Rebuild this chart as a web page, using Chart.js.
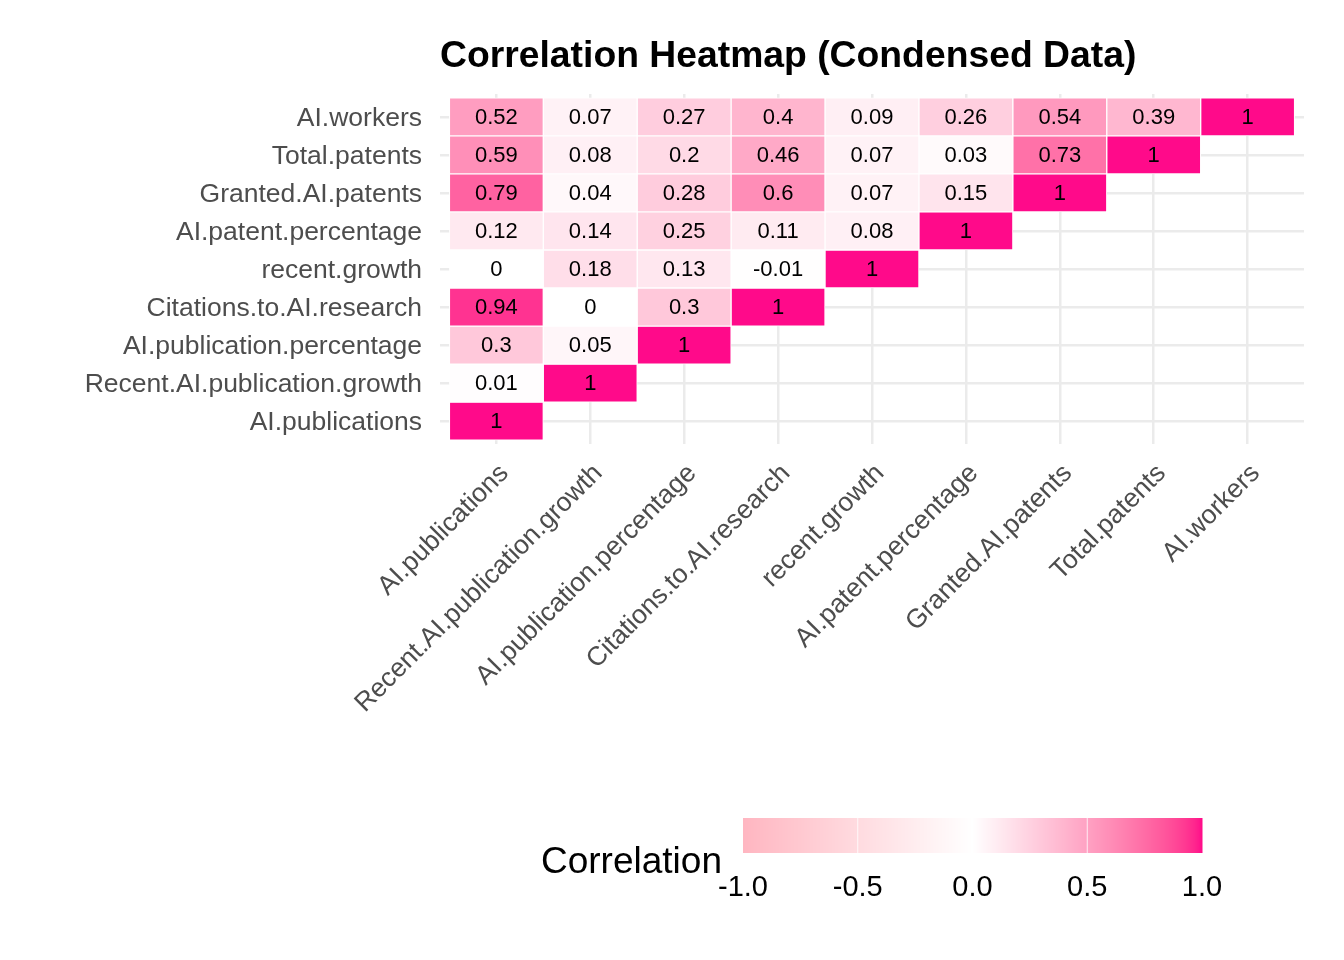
<!DOCTYPE html>
<html>
    <head>
        <title>Correlation Heatmap</title>
        <meta charset="UTF-8">
        <script src="https://cdn.jsdelivr.net/npm/chart.js@4.4.0/dist/chart.umd.min.js"></script>
        <style>
            html, body { margin: 0; padding: 0; background: #ffffff; }
            #chartBox { width: 1344px; height: 960px; }
        </style>
    </head>
    <body>
        <div id='chartBox'><canvas id='myChart'></canvas></div>
        <script>
            // variables, bottom row / left column first
            const variables = [
                'AI.publications',
                'Recent.AI.publication.growth',
                'AI.publication.percentage',
                'Citations.to.AI.research',
                'recent.growth',
                'AI.patent.percentage',
                'Granted.AI.patents',
                'Total.patents',
                'AI.workers'
            ];

            // one array per row (y variable), values for columns 0..row
            const rowAIpublications = [1];
            const rowRecentAIpublicationGrowth = [0.01, 1];
            const rowAIpublicationPercentage = [0.3, 0.05, 1];
            const rowCitationsToAIresearch = [0.94, 0, 0.3, 1];
            const rowRecentGrowth = [0, 0.18, 0.13, -0.01, 1];
            const rowAIpatentPercentage = [0.12, 0.14, 0.25, 0.11, 0.08, 1];
            const rowGrantedAIpatents = [0.79, 0.04, 0.28, 0.6, 0.07, 0.15, 1];
            const rowTotalPatents = [0.59, 0.08, 0.2, 0.46, 0.07, 0.03, 0.73, 1];
            const rowAIworkers = [0.52, 0.07, 0.27, 0.4, 0.09, 0.26, 0.54, 0.39, 1];

            const legendTicks = [-1.0, -0.5, 0.0, 0.5, 1.0];

            const lowColour = '#FFB6C1';
            const midColour = '#FFFFFF';
            const highColour = '#FF0A8A';

            const titleText = 'Correlation Heatmap (Condensed Data)';
            const legendTitle = 'Correlation';

            const rows = [
                rowAIpublications, rowRecentAIpublicationGrowth, rowAIpublicationPercentage,
                rowCitationsToAIresearch, rowRecentGrowth, rowAIpatentPercentage,
                rowGrantedAIpatents, rowTotalPatents, rowAIworkers
            ];

            // --- colour scale, interpolated in Lab like ggplot's gradient2 ---
            function hexToRgb(h) {
                return [parseInt(h.substr(1, 2), 16), parseInt(h.substr(3, 2), 16), parseInt(h.substr(5, 2), 16)];
            }
            function toLab(rgb) {
                let l = rgb.map(c => { c /= 255; return c <= 0.04045 ? c / 12.92 : Math.pow((c + 0.055) / 1.055, 2.4); });
                let X = (0.4124564 * l[0] + 0.3575761 * l[1] + 0.1804375 * l[2]) / 0.95047;
                let Y = (0.2126729 * l[0] + 0.7151522 * l[1] + 0.0721750 * l[2]);
                let Z = (0.0193339 * l[0] + 0.1191920 * l[1] + 0.9503041 * l[2]) / 1.08883;
                let f = t => t > 0.008856 ? Math.cbrt(t) : 7.787 * t + 16 / 116;
                let fx = f(X), fy = f(Y), fz = f(Z);
                return [116 * fy - 16, 500 * (fx - fy), 200 * (fy - fz)];
            }
            function fromLab(lab) {
                let fy = (lab[0] + 16) / 116, fx = fy + lab[1] / 500, fz = fy - lab[2] / 200;
                let finv = t => t * t * t > 0.008856 ? t * t * t : (t - 16 / 116) / 7.787;
                let X = finv(fx) * 0.95047, Y = finv(fy), Z = finv(fz) * 1.08883;
                let r = 3.2404542 * X - 1.5371385 * Y - 0.4985314 * Z;
                let g = -0.9692660 * X + 1.8760108 * Y + 0.0415560 * Z;
                let b = 0.0556434 * X - 0.2040259 * Y + 1.0572252 * Z;
                return [r, g, b].map(c => {
                    c = c <= 0.0031308 ? 12.92 * c : 1.055 * Math.pow(c, 1 / 2.4) - 0.055;
                    return Math.round(Math.max(0, Math.min(1, c)) * 255);
                });
            }
            const labLow = toLab(hexToRgb(lowColour));
            const labMid = toLab(hexToRgb(midColour));
            const labHigh = toLab(hexToRgb(highColour));

            function corrColour(v) {
                let end = v >= 0 ? labHigh : labLow;
                let t = Math.min(1, Math.abs(v));
                let lab = labMid.map((m, k) => m + (end[k] - m) * t);
                let c = fromLab(lab);
                return 'rgb(' + c[0] + ',' + c[1] + ',' + c[2] + ')';
            }

            // tiles as floating bars: x = column, y = [row - 0.5, row + 0.5]
            let tiles = [];
            rows.forEach((vals, j) => {
                vals.forEach((v, i) => {
                    tiles.push({ x: i, y: [j - 0.5, j + 0.5], v: v });
                });
            });

            const fontFamily = "'Liberation Sans', Arial, Helvetica, sans-serif";
            Chart.defaults.font.family = fontFamily;

            const cellText = {
                id: 'cellText',
                afterDatasetsDraw(chart) {
                    const ctx = chart.ctx;
                    const meta = chart.getDatasetMeta(0);
                    ctx.save();
                    ctx.font = '22px ' + fontFamily;
                    ctx.fillStyle = '#000000';
                    ctx.textAlign = 'center';
                    ctx.textBaseline = 'middle';
                    meta.data.forEach((bar, k) => {
                        let p = bar.getProps(['x', 'y', 'base'], true);
                        ctx.fillText(String(tiles[k].v), p.x, (p.y + p.base) / 2 + 1);
                    });
                    ctx.restore();
                }
            };

            const titleAndLegend = {
                id: 'titleAndLegend',
                afterDraw(chart) {
                    const ctx = chart.ctx;
                    ctx.save();
                    // title, left aligned with the panel
                    ctx.font = 'bold 37.3px ' + fontFamily;
                    ctx.fillStyle = '#000000';
                    ctx.textAlign = 'left';
                    ctx.textBaseline = 'alphabetic';
                    ctx.fillText(titleText, chart.chartArea.left, 67);

                    // colour bar
                    const x0 = 743, x1 = 1202, y0 = 818, y1 = 853;
                    for (let px = x0; px < x1; px++) {
                        let v = -1 + 2 * ((px + 0.5 - x0) / (x1 - x0));
                        ctx.fillStyle = corrColour(v);
                        ctx.fillRect(px, y0, 1.5, y1 - y0);
                    }
                    ctx.strokeStyle = 'rgba(255,255,255,0.8)';
                    ctx.lineWidth = 1;
                    legendTicks.forEach(t => {
                        if (t === -1 || t === 1) return;
                        let px = x0 + (t + 1) / 2 * (x1 - x0);
                        ctx.beginPath();
                        ctx.moveTo(px, y0);
                        ctx.lineTo(px, y1);
                        ctx.stroke();
                    });

                    ctx.fillStyle = '#000000';
                    ctx.font = '29px ' + fontFamily;
                    ctx.textAlign = 'center';
                    legendTicks.forEach(t => {
                        let px = x0 + (t + 1) / 2 * (x1 - x0);
                        ctx.fillText(t.toFixed(1), px, 896);
                    });

                    ctx.font = '37px ' + fontFamily;
                    ctx.textAlign = 'left';
                    ctx.fillText(legendTitle, 541, 873);
                    ctx.restore();
                }
            };

            const ctx = document.getElementById('myChart').getContext('2d');
            const chart = new Chart(ctx, {
                type: 'bar',
                data: {
                    datasets: [{
                        data: tiles,
                        backgroundColor: c => corrColour(c.raw ? c.raw.v : 0),
                        borderColor: '#ffffff',
                        borderWidth: 1,
                        borderSkipped: false,
                        barPercentage: 1,
                        categoryPercentage: 1
                    }]
                },
                options: {
                    responsive: true,
                    maintainAspectRatio: false,
                    animation: false,
                    events: [],
                    layout: { padding: { top: 94, right: 40, left: 0, bottom: 0 } },
                    plugins: {
                        legend: { display: false },
                        tooltip: { enabled: false },
                        title: { display: false }
                    },
                    scales: {
                        x: {
                            type: 'linear',
                            min: -0.6,
                            max: 8.6,
                            offset: false,
                            afterBuildTicks: s => { s.ticks = variables.map((_, i) => ({ value: i })); },
                            afterFit: s => { s.height = 960 - 444; },
                            grid: { color: '#EBEBEB', lineWidth: 2.5, drawTicks: false, offset: false },
                            border: { display: false },
                            ticks: {
                                autoSkip: false,
                                minRotation: 45,
                                maxRotation: 45,
                                padding: 14,
                                labelOffset: 8,
                                color: '#4D4D4D',
                                font: { size: 26.5 },
                                callback: v => variables[v]
                            }
                        },
                        y: {
                            type: 'linear',
                            min: -0.6,
                            max: 8.6,
                            afterBuildTicks: s => { s.ticks = variables.map((_, i) => ({ value: i })); },
                            afterFit: s => { s.width = 440; },
                            grid: { color: '#EBEBEB', lineWidth: 2.5, drawTicks: false },
                            border: { display: false },
                            ticks: {
                                padding: 18,
                                labelOffset: 2,
                                color: '#4D4D4D',
                                font: { size: 26.5 },
                                callback: v => variables[v]
                            }
                        }
                    }
                },
                plugins: [cellText, titleAndLegend]
            });
        </script>
    </body>
</html>
